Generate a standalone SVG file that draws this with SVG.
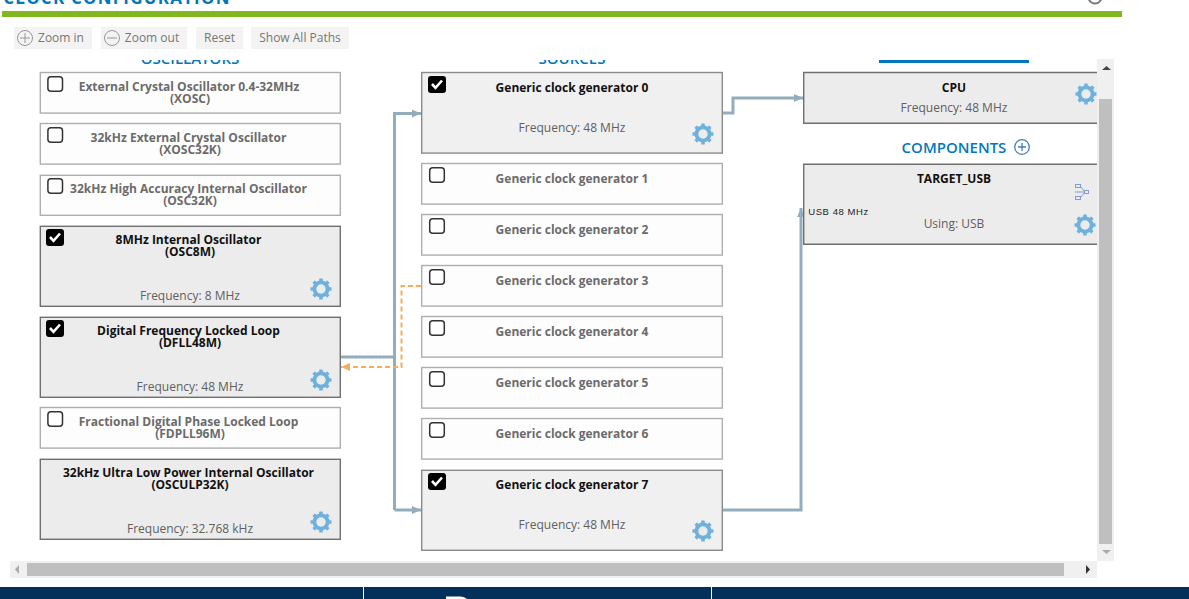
<svg xmlns="http://www.w3.org/2000/svg" width="1189" height="599" viewBox="0 0 1189 599">
<style>
text{font-family:"Open Sans","Noto Sans","Liberation Sans",sans-serif;text-anchor:middle}
.on{fill:#ececec;stroke:#6f6f6f;stroke-width:1.4}
.gen{fill:#f0f0f0;stroke:#8a8a8a;stroke-width:1.4}
.off{fill:#fdfdfd;stroke:#aeaeae;stroke-width:1.4}
.t{font-size:12px;font-weight:700;fill:#111}
.d{font-size:12px;font-weight:700;fill:#6b6b6b}
.f{font-size:12px;fill:#5f5f5f}
.h{font-size:15px;font-weight:600;fill:#0277bd}
.b{font-size:12px;fill:#777}
.btn{fill:#f3f3f3}
.wire{fill:none;stroke:#94adbd;stroke-width:3}
.dash{fill:none;stroke:#f5ad5b;stroke-width:2;stroke-dasharray:5 3}
</style>
<defs>
<clipPath id="top"><rect x="0" y="0" width="1189" height="5"/></clipPath>
<clipPath id="pane"><rect x="10" y="60" width="1087" height="500"/></clipPath>
<marker id="ab" markerWidth="10" markerHeight="10" refX="9" refY="5" orient="auto" markerUnits="userSpaceOnUse"><path d="M0 1L9 5L0 9Z" fill="#94adbd"/></marker>
<marker id="ao" markerWidth="10" markerHeight="10" refX="9" refY="5" orient="auto" markerUnits="userSpaceOnUse"><path d="M0 1L9 5L0 9Z" fill="#f5ad5b"/></marker>
<g id="gear"><g fill="#6fb1dd"><rect x="-1.800" y="-10.500" width="3.600" height="21" rx=".6"/><rect x="-1.800" y="-10.500" width="3.600" height="21" rx=".6" transform="rotate(45)"/><rect x="-1.800" y="-10.500" width="3.600" height="21" rx=".6" transform="rotate(90)"/><rect x="-1.800" y="-10.500" width="3.600" height="21" rx=".6" transform="rotate(135)"/><circle r="8.500"/></g><circle r="4.700" fill="#ececec"/></g>
<g id="cb"><rect x="-7.300" y="-7.300" width="14.600" height="14.600" rx="3" fill="#fff" stroke="#333" stroke-width="1.500"/></g>
<g id="cbon"><rect x="-9" y="-9" width="18" height="17" rx="3" fill="#000"/><path d="M-5 -1L-1.500 2.800L5 -4.500" fill="none" stroke="#fff" stroke-width="2.600"/></g>
</defs>
<rect width="1189" height="599" fill="#fff"/>
<g id="header">
<text clip-path="url(#top)" x="117" y="4" style="font-size:17px;font-weight:700;fill:#0277bd;letter-spacing:1.2px">CLOCK CONFIGURATION</text>
<rect x="2" y="11" width="1120" height="6" fill="#80b81e"/>
<g clip-path="url(#top)"><circle cx="1095" cy="-3" r="6.500" fill="none" stroke="#777" stroke-width="2"/></g>
</g>
<g id="toolbar">
<rect class="btn" x="14" y="27" width="78" height="22"/><circle cx="25" cy="38" r="7.500" fill="none" stroke="#999"/><path d="M25 33v10M20 38h10" stroke="#999"/><text class="b" x="61" y="42">Zoom in</text>
<rect class="btn" x="101" y="27" width="86" height="22"/><circle cx="112" cy="38" r="7.500" fill="none" stroke="#999"/><path d="M107 38h10" stroke="#999"/><text class="b" x="152" y="42">Zoom out</text>
<rect class="btn" x="196" y="27" width="47" height="22"/><text class="b" x="219.500" y="42">Reset</text>
<rect class="btn" x="251" y="27" width="98" height="22"/><text class="b" x="300" y="42">Show All Paths</text>
</g>
<g id="panes" clip-path="url(#pane)">
<text class="h" x="190" y="64">OSCILLATORS</text>
<text class="h" x="572" y="64">SOURCES</text>
<rect x="879" y="59" width="150" height="4" fill="#0277bd"/>
<text class="h" x="954" y="153">COMPONENTS</text>
<g fill="none" stroke="#3f7fc0" stroke-width="1.300"><circle cx="1022" cy="147" r="7.300"/><path d="M1022 143v8M1018 147h8"/></g>
</g>
<g id="connectors">
<path class="wire" d="M340 357H394.500"/>
<path class="wire" d="M394.500 510V113.500H421" marker-end="url(#ab)"/>
<path class="wire" d="M394.500 510H421" marker-end="url(#ab)"/>
<path class="wire" d="M722 113H733V98H803" marker-end="url(#ab)"/>
<path class="wire" d="M722 510H801V208" marker-end="url(#ab)"/>
<path class="dash" d="M421 286H401.500V367H341" marker-end="url(#ao)"/>
</g>
<g id="xosc"><rect class="off" x="40.300" y="72.500" width="300" height="40.600"/><use href="#cb" x="55.200" y="84"/><text class="d" x="189" y="91">External Crystal Oscillator 0.4-32MHz</text><text class="d" x="190" y="103">(XOSC)</text></g>
<g id="xosc32k"><rect class="off" x="40.300" y="123.500" width="300" height="40.600"/><use href="#cb" x="55.200" y="135"/><text class="d" x="188.500" y="142">32kHz External Crystal Oscillator</text><text class="d" x="190" y="154">(XOSC32K)</text></g>
<g id="osc32k"><rect class="off" x="40.300" y="175.300" width="300" height="40"/><use href="#cb" x="55.200" y="186"/><text class="d" x="188.500" y="193">32kHz High Accuracy Internal Oscillator</text><text class="d" x="190" y="205">(OSC32K)</text></g>
<g id="osc8m"><rect class="on" x="40.300" y="226.300" width="300" height="80"/><use href="#cbon" x="55" y="238"/><text class="t" x="188.500" y="244">8MHz Internal Oscillator</text><text class="t" x="190" y="256">(OSC8M)</text><text class="f" x="190" y="300">Frequency: 8 MHz</text><use href="#gear" x="321" y="289"/></g>
<g id="dfll48m"><rect class="on" x="40.300" y="317.300" width="300" height="80"/><use href="#cbon" x="55" y="329"/><text class="t" x="188.500" y="335">Digital Frequency Locked Loop</text><text class="t" x="190" y="347">(DFLL48M)</text><text class="f" x="190" y="391">Frequency: 48 MHz</text><use href="#gear" x="321" y="380"/></g>
<g id="fdpll96m"><rect class="off" x="40.300" y="407.500" width="300" height="40.600"/><use href="#cb" x="55.200" y="419"/><text class="d" x="188.500" y="426">Fractional Digital Phase Locked Loop</text><text class="d" x="190" y="438">(FDPLL96M)</text></g>
<g id="osculp32k"><rect class="on" x="40.300" y="459.300" width="300" height="80"/><text class="t" x="188.500" y="477">32kHz Ultra Low Power Internal Oscillator</text><text class="t" x="190" y="489">(OSCULP32K)</text><text class="f" x="190" y="533">Frequency: 32.768 kHz</text><use href="#gear" x="321" y="522"/></g>
<g id="gclk0"><rect class="gen" x="421.700" y="72.500" width="300.600" height="80.600"/><use href="#cbon" x="437" y="85"/><text class="t" x="572" y="92">Generic clock generator 0</text><text class="f" x="572" y="132">Frequency: 48 MHz</text><use href="#gear" x="703" y="134"/></g>
<g id="gclk1"><rect class="off" x="421.700" y="163.500" width="300.600" height="40.600"/><use href="#cb" x="437" y="175"/><text class="d" x="572" y="183">Generic clock generator 1</text></g>
<g id="gclk2"><rect class="off" x="421.700" y="214.500" width="300.600" height="40.600"/><use href="#cb" x="437" y="226"/><text class="d" x="572" y="234">Generic clock generator 2</text></g>
<g id="gclk3"><rect class="off" x="421.700" y="265.500" width="300.600" height="40.600"/><use href="#cb" x="437" y="277"/><text class="d" x="572" y="285">Generic clock generator 3</text></g>
<g id="gclk4"><rect class="off" x="421.700" y="316.500" width="300.600" height="40.600"/><use href="#cb" x="437" y="328"/><text class="d" x="572" y="336">Generic clock generator 4</text></g>
<g id="gclk5"><rect class="off" x="421.700" y="367.500" width="300.600" height="40.600"/><use href="#cb" x="437" y="379"/><text class="d" x="572" y="387">Generic clock generator 5</text></g>
<g id="gclk6"><rect class="off" x="421.700" y="418.500" width="300.600" height="40.600"/><use href="#cb" x="437" y="430"/><text class="d" x="572" y="438">Generic clock generator 6</text></g>
<g id="gclk7"><rect class="gen" x="421.700" y="470.300" width="300.600" height="80"/><use href="#cbon" x="437" y="482"/><text class="t" x="572" y="489">Generic clock generator 7</text><text class="f" x="572" y="529">Frequency: 48 MHz</text><use href="#gear" x="703" y="531"/></g>
<g id="cpu"><path class="on" d="M1097 72.500H803.700V123.300H1097"/><text class="t" x="954" y="92">CPU</text><text class="f" x="954" y="112">Frequency: 48 MHz</text><use href="#gear" x="1086" y="94"/></g>
<g id="target_usb"><path class="on" d="M1097 164.300H803.700V244.300H1097"/><text class="t" x="954" y="183">TARGET_USB</text><text x="838.500" y="215" style="font-size:9.5px;fill:#222;font-family:'Liberation Sans',sans-serif;letter-spacing:.55px">USB 48 MHz</text><text class="f" x="954" y="228">Using: USB</text>
<g fill="none" stroke="#7f9fd0"><rect x="1075.500" y="184.500" width="5" height="3"/><rect x="1075.500" y="196.500" width="5" height="3"/><rect x="1084.500" y="190.500" width="4" height="3"/><path d="M1080 186L1085 192L1080 198M1075 192H1085"/></g><use href="#gear" x="1085" y="225"/></g>
<g id="scrollbars">
<rect x="1097" y="59" width="17" height="502" fill="#f0f0f0"/><path d="M1102 70h9l-4.500-4z" fill="#444"/><rect x="1099" y="99" width="13" height="445" fill="#bfbfbf"/><path d="M1102 550h9l-4.500 4z" fill="#aaa"/>
<rect x="10" y="561" width="1087" height="17" fill="#f0f0f0"/><path d="M19 565v9l-4-4.500z" fill="#aaa"/><rect x="27" y="563" width="1037" height="13" fill="#bfbfbf"/><path d="M1086 565v9l4-4.500z" fill="#333"/>
</g>
<g id="footer"><rect y="587" width="1189" height="12" fill="#03305a"/><path d="M363.500 587v12M711.500 587v12" stroke="#fff"/><path d="M446 599V596.500H460C463 596.500 465 597.500 467 599Z" fill="#fff"/></g>
</svg>
